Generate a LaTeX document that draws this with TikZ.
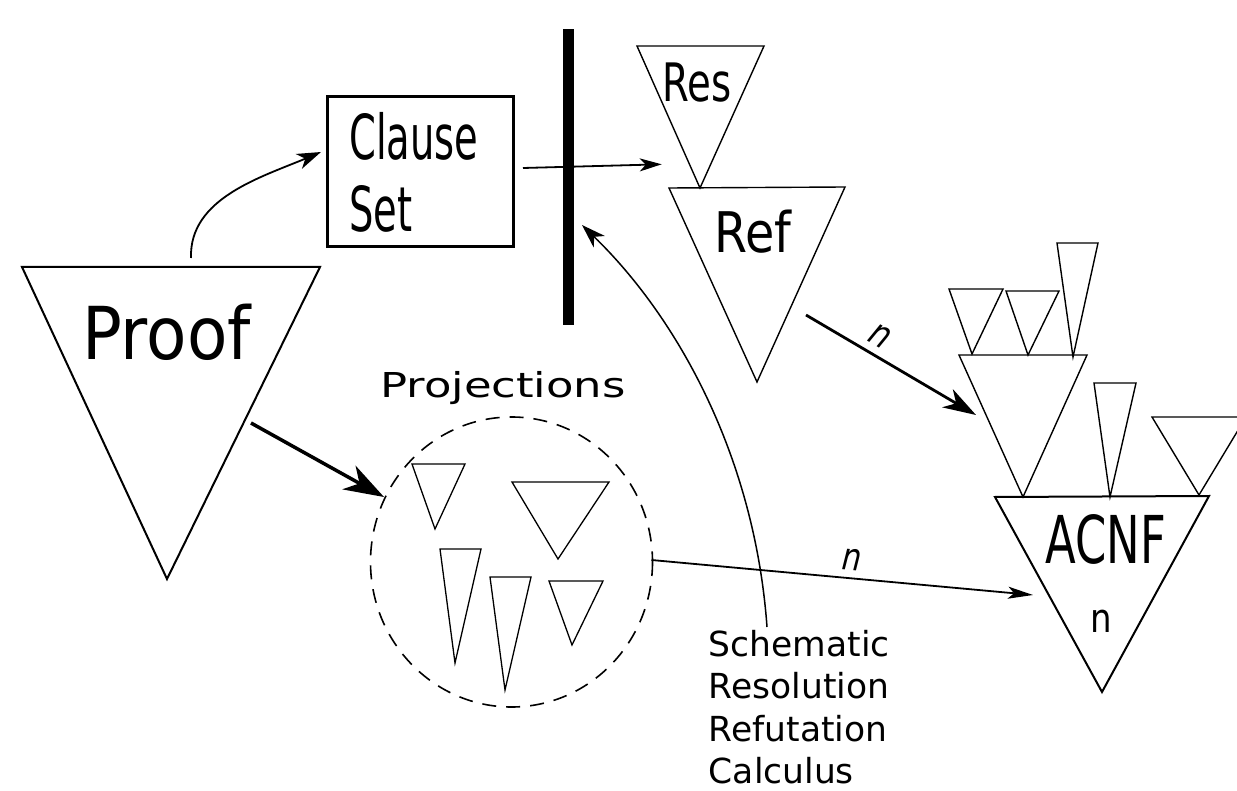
\documentclass[tikz,border=0pt]{standalone}
\usepackage{fontspec}
\setmainfont{DejaVu Sans}
\newfontfamily\fProof[FakeStretch=0.905]{DejaVu Sans}
\newfontfamily\fClause[FakeStretch=0.62]{DejaVu Sans}
\newfontfamily\fRes[FakeStretch=0.73]{DejaVu Sans}
\newfontfamily\fRef[FakeStretch=0.85]{DejaVu Sans}
\newfontfamily\fAcnf[FakeStretch=0.68]{DejaVu Sans}
\newfontfamily\fNn[FakeStretch=0.85]{DejaVu Sans}
\newfontfamily\fNi[FakeStretch=0.8]{DejaVu Sans}
\newfontfamily\fProj[FakeStretch=1.31]{DejaVu Sans}
\newfontfamily\fSch{DejaVu Sans}
\usetikzlibrary{arrows.meta}
\begin{document}
\begin{tikzpicture}[x=1pt,y=-1pt,
  tri/.style={draw,line width=1.4pt,line join=miter},
  bigtri/.style={draw,line width=2pt,line join=miter},
  lbl/.style={inner sep=0pt,anchor=base west},
  arrA/.style={line width=1.8pt,-{Stealth[length=24pt,width=16pt,inset=7pt]}},
  arrB/.style={line width=1.8pt,-{Stealth[length=22pt,width=13pt,inset=6pt]}},
  arrC/.style={line width=3.5pt,-{Stealth[length=40pt,width=27pt,inset=12pt]}},
  arrD/.style={line width=2.8pt,-{Stealth[length=33pt,width=21pt,inset=10pt]}},
  arrE/.style={line width=1.8pt,-{Stealth[length=25pt,width=12pt,inset=6pt]}},
  nlab/.style={inner sep=0pt,font={\fNi\itshape\fontsize{38pt}{38pt}\selectfont}}
]
\useasboundingbox (0,0) rectangle (1237,791);

% Proof
\draw[bigtri] (22,267) -- (320,267) -- (167,579) -- cycle;
\node[lbl,font={\fProof\fontsize{73pt}{73pt}\selectfont}] (proof) at (82,360) {Proof};

% Clause set
\node[draw,line width=3pt,minimum width=186pt,minimum height=150pt,inner sep=0pt] (cs) at (420,172) {};
\node[lbl,font={\fClause\fontsize{62pt}{62pt}\selectfont}] (cl) at (349,160) {Clause};
\node[lbl,font={\fClause\fontsize{62pt}{62pt}\selectfont}] (st) at (349,232) {Set};

% bar
\node[fill,inner sep=0pt,minimum width=11pt,minimum height=296pt] (bar) at (568,177) {};

% Res, Ref
\draw[tri] (637,46) -- (764,46) -- (700,188) -- cycle;
\node[lbl,font={\fRes\fontsize{53pt}{53pt}\selectfont}] (res) at (662,102) {Res};
\draw[tri] (669,188) -- (845,187) -- (757,382) -- cycle;
\node[lbl,font={\fRef\fontsize{56pt}{56pt}\selectfont}] (ref) at (714.5,253) {Ref};

% ACNF cluster
\draw[bigtri] (995,497) -- (1209,496) -- (1102,692) -- cycle;
\node[lbl,font={\fAcnf\fontsize{66pt}{66pt}\selectfont}] (acnf) at (1045,563) {ACNF};
\node[lbl,font={\fNn\fontsize{40pt}{40pt}\selectfont}] (acnfn) at (1090.5,632) {n};
\draw[tri] (959,355) -- (1087,355) -- (1023,497) -- cycle;
\draw[tri] (1094,383) -- (1136,383) -- (1110,497) -- cycle;
\draw[tri] (1152,417) -- (1246,417) -- (1199,495) -- cycle;
\draw[tri] (949,289) -- (1003,289) -- (972,354) -- cycle;
\draw[tri] (1006,291) -- (1059,291) -- (1028,355) -- cycle;
\draw[tri] (1057,243) -- (1098,243) -- (1073,357) -- cycle;

% Projections
\node[lbl,font={\fProj\fontsize{34.3pt}{34.3pt}\selectfont}] (proj) at (380,398) {Projections};
\coordinate (pc) at (511.5,562);
\draw[line width=1.6pt,dash pattern=on 14pt off 10pt] (pc) ellipse [x radius=141, y radius=145];
\draw[tri,line width=1.3pt] (412,464) -- (465,464) -- (435,529) -- cycle;
\draw[tri,line width=1.3pt] (512,482) -- (609,482) -- (558,559) -- cycle;
\draw[tri,line width=1.3pt] (440,549) -- (481,549) -- (455,663) -- cycle;
\draw[tri,line width=1.3pt] (490,577) -- (531,577) -- (505,690) -- cycle;
\draw[tri,line width=1.3pt] (549,581) -- (603,581) -- (572,645) -- cycle;

% Schematic text
\node[lbl,font={\fSch\fontsize{34.5pt}{34.5pt}\selectfont}] (sch1) at (708.6,656.7) {Schematic};
\node[lbl,font={\fSch\fontsize{34.5pt}{34.5pt}\selectfont}] (sch2) at (708.6,698.5) {Resolution};
\node[lbl,font={\fSch\fontsize{34.5pt}{34.5pt}\selectfont}] (sch3) at (708.6,741) {Refutation};
\node[lbl,font={\fSch\fontsize{34.5pt}{34.5pt}\selectfont}] (sch4) at (708.6,783) {Calculus};

% connector end points
\coordinate (p1) at (191,258);
\coordinate (p2) at (321,152);
\coordinate (c1) at (523,168);
\coordinate (c2) at (661.7,164.3);
\coordinate (s1) at (767,627);
\coordinate (s2) at (582,225);
\coordinate (q1) at (251,423);
\coordinate (q2) at (384,497);
\coordinate (r1) at (806,315);
\coordinate (r2) at (976,415);
\coordinate (e1) at (651.5,560);
\coordinate (e2) at (1033,595);

\draw[arrA] (p1) .. controls (189,198) and (262,177) .. (p2);
\draw[arrB] (c1) -- (c2);
\draw[arrA,line width=1.5pt] (s1) .. controls (755,460) and (680,320) .. (s2);
\draw[arrC] (q1) -- (q2);
\draw[arrD] (r1) -- node[nlab,pos=0.38,sloped,above=7pt] (n1) {n} (r2);
\draw[arrE] (e1) -- node[nlab,pos=0.521,sloped,above=7pt] (n2) {n} (e2);
\end{tikzpicture}
\end{document}
